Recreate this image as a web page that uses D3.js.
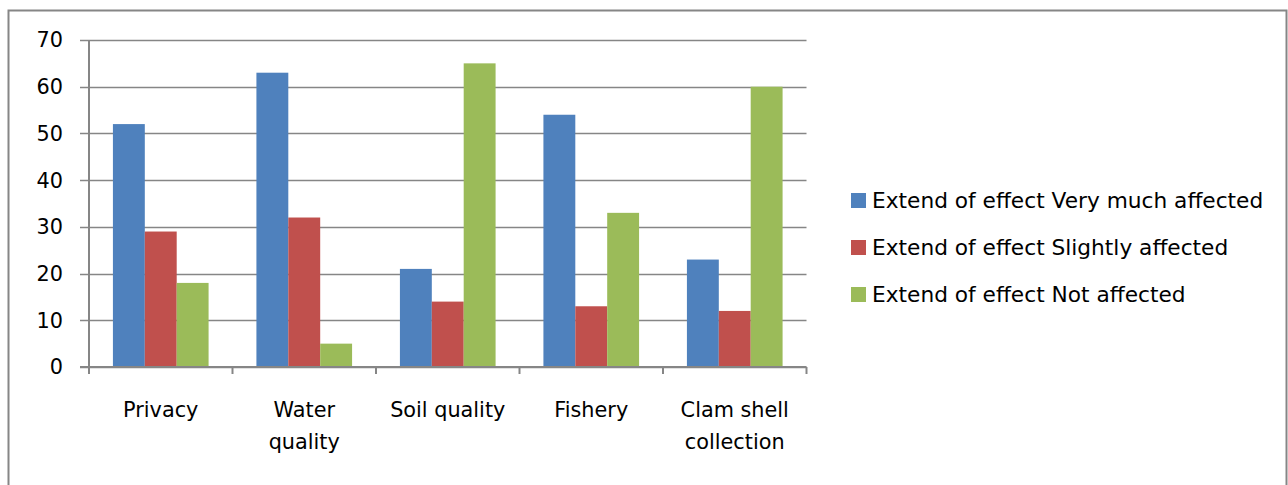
<!DOCTYPE html>
<html><head><meta charset="utf-8">
<script src="https://cdn.jsdelivr.net/npm/d3@7"></script>
<style>body{margin:0;background:#fff}svg{display:block}text{font-family:"DejaVu Sans",sans-serif;fill:#000}</style>
</head><body>
<svg id="c" width="1288" height="485"></svg>
<script>
const categories = [["Privacy"], ["Water", "quality"], ["Soil quality"], ["Fishery"], ["Clam shell", "collection"]];
const seriesNames = ["Extend of effect Very much affected", "Extend of effect Slightly affected", "Extend of effect Not affected"];
const veryMuch = [52, 63, 21, 54, 23];
const slightly = [29, 32, 14, 13, 12];
const notAffected = [18, 5, 65, 33, 60];
const yTicks = [0, 10, 20, 30, 40, 50, 60, 70];
const colors = ["#4F81BD", "#C0504D", "#9BBB59"];

const series = [veryMuch, slightly, notAffected];
const svg = d3.select("#c");
svg.append("rect").attr("x", 8.5).attr("y", 10.5).attr("width", 1278).attr("height", 520)
  .attr("fill", "#fff").attr("stroke", "#868686").attr("stroke-width", 2);

const x0 = 89, x1 = 806.5, yTop = 40, yBot = 367;
const y = d3.scaleLinear().domain([0, 70]).range([yBot, yTop]);
const x = d3.scaleBand().domain(d3.range(categories.length)).range([x0, x1]).paddingInner(0).paddingOuter(0);
const bw = x.bandwidth() / 4.5;
const fs = 20.8, lfs = 21.7;

// gridlines
svg.append("g").selectAll("line").data(yTicks).join("line")
  .attr("x1", x0 - 9).attr("x2", x1).attr("y1", d => Math.round(y(d)) + 0.5).attr("y2", d => Math.round(y(d)) + 0.5)
  .attr("stroke", "#868686").attr("stroke-width", 1.5);

// bars
series.forEach((vals, si) => {
  svg.append("g").selectAll("rect").data(vals).join("rect")
    .attr("x", (d, i) => x(i) + bw * 0.75 + si * bw)
    .attr("width", bw)
    .attr("y", d => y(d))
    .attr("height", d => y(0) - y(d))
    .attr("fill", colors[si]);
});

// axes
svg.append("line").attr("x1", x0).attr("x2", x0).attr("y1", yTop).attr("y2", yBot + 7).attr("stroke", "#868686").attr("stroke-width", 2);
svg.append("line").attr("x1", x0 - 9).attr("x2", x1).attr("y1", yBot).attr("y2", yBot).attr("stroke", "#868686").attr("stroke-width", 2);
svg.append("g").selectAll("line").data(d3.range(categories.length + 1)).join("line")
  .attr("x1", i => x0 + i * x.bandwidth()).attr("x2", i => x0 + i * x.bandwidth())
  .attr("y1", yBot).attr("y2", yBot + 7).attr("stroke", "#868686").attr("stroke-width", 2);

// y labels
svg.append("g").selectAll("text").data(yTicks).join("text")
  .attr("x", 63).attr("y", d => y(d)).attr("dy", "0.36em").attr("text-anchor", "end")
  .attr("font-size", fs).text(d => d);

// x labels
const xl = svg.append("g").selectAll("text").data(categories).join("text")
  .attr("x", (d, i) => x(i) + x.bandwidth() / 2).attr("y", 417).attr("text-anchor", "middle").attr("font-size", fs);
xl.selectAll("tspan").data(d => d).join("tspan")
  .attr("x", function () { return this.parentNode.getAttribute("x"); })
  .attr("dy", (d, j) => j === 0 ? 0 : 32).text(d => d);

// legend
const lg = svg.append("g").selectAll("g").data(seriesNames).join("g")
  .attr("transform", (d, i) => `translate(851,${193 + i * 47})`);
lg.append("rect").attr("width", 15).attr("height", 15).attr("fill", (d, i) => colors[i]);
lg.append("text").attr("x", 21).attr("y", 15).attr("font-size", lfs).text(d => d);
</script>
</body></html>
